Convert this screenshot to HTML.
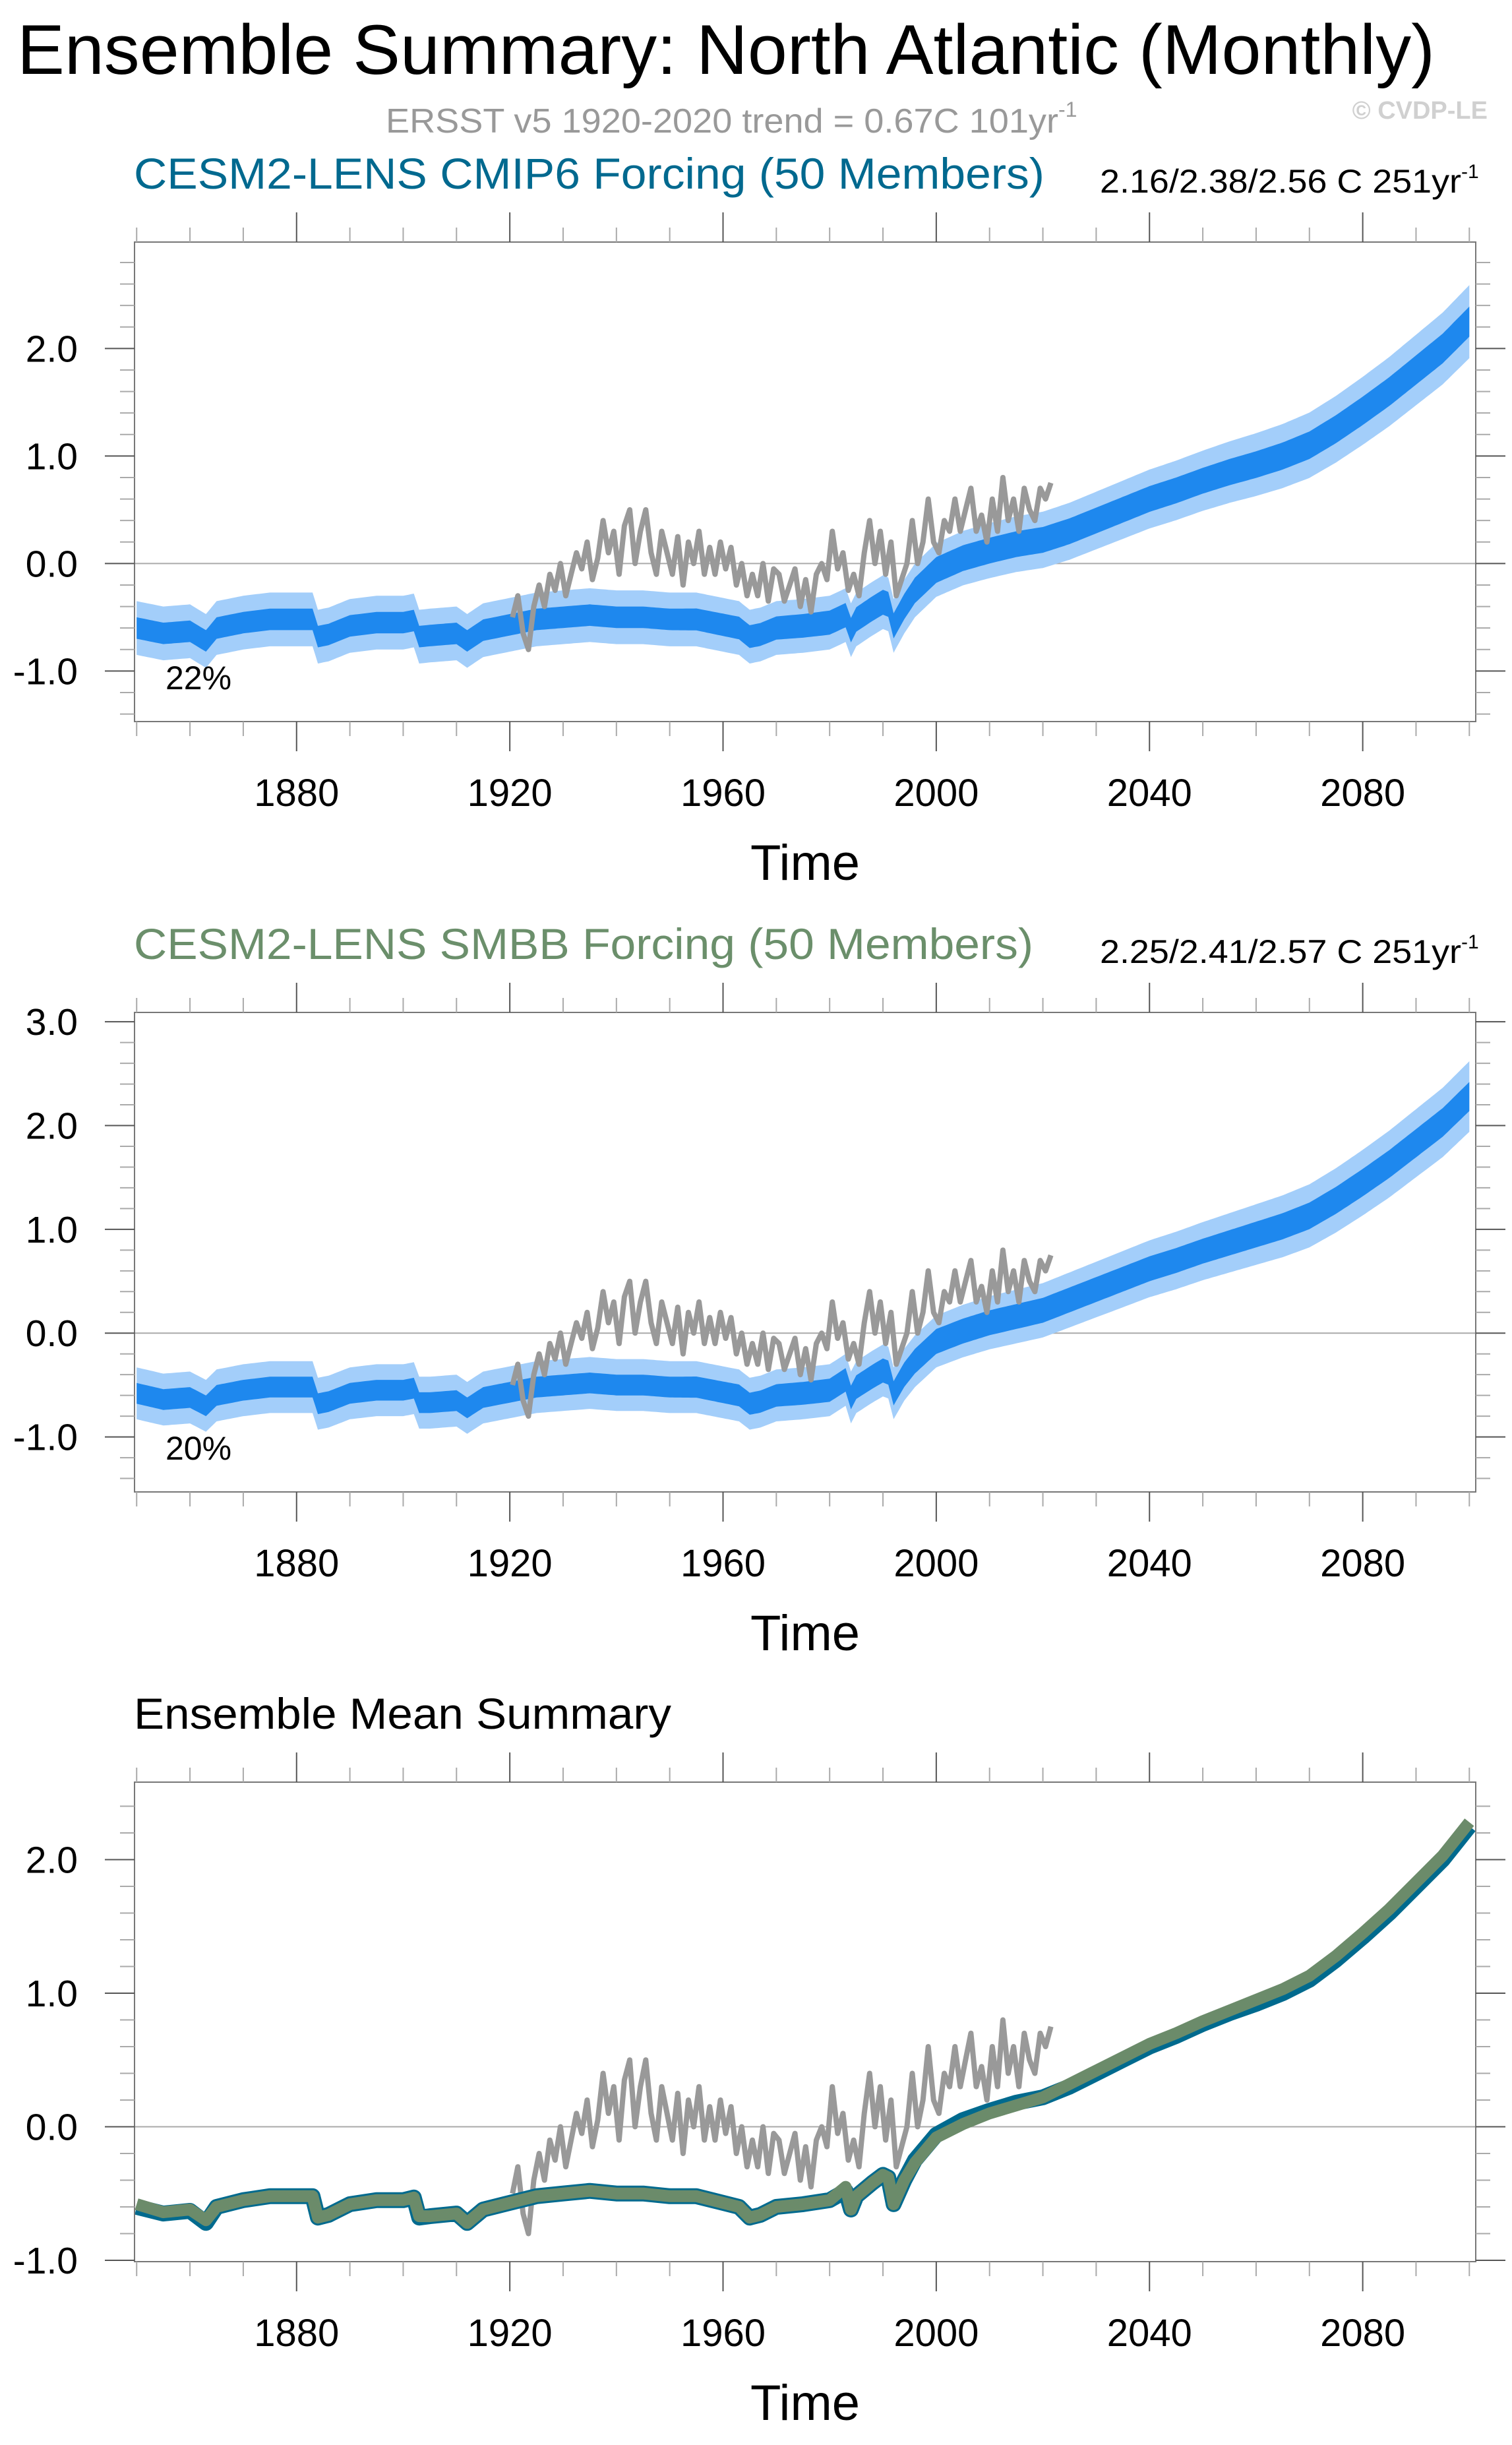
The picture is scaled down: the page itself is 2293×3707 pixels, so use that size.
<!DOCTYPE html>
<html><head><meta charset="utf-8"><title>Ensemble Summary: North Atlantic (Monthly)</title>
<style>
html,body{margin:0;padding:0;background:#fff;}
svg{display:block;font-family:"Liberation Sans",Arial,sans-serif;}
</style></head>
<body>
<svg id="fig" xmlns="http://www.w3.org/2000/svg" width="2293" height="3707" viewBox="0 0 2293 3707">
<rect width="2293" height="3707" fill="#fff"/>
<text x="26" y="112" font-size="107" fill="#000" textLength="2150" lengthAdjust="spacingAndGlyphs">Ensemble Summary: North Atlantic (Monthly)</text>
<text x="585" y="201" font-size="52" fill="#999"><tspan textLength="1020" lengthAdjust="spacingAndGlyphs">ERSST v5 1920-2020 trend = 0.67C 101yr</tspan><tspan font-size="32" dy="-24">-1</tspan></text>
<text x="2256" y="180" font-size="38" font-weight="bold" fill="#d0d0d0" text-anchor="end">© CVDP-LE</text>
<g id="panels"></g>
</svg>
<script>
// ---- data ----
const meanYears = [1850,1855,1860,1863,1865,1870,1875,1880,1883,1884,1886,1890,1895,1900,1902,1903,1905,1910,1912,1915,1920,1925,1930,1935,1940,1945,1950,1955,1960,1963,1965,1967,1970,1975,1980,1983,1984,1985,1988,1990,1991,1992,1994,1996,2000,2005,2010,2015,2020,2025,2030,2035,2040,2045,2050,2055,2060,2065,2070,2075,2080,2085,2090,2095,2100];
const cmip6Mean = [-0.60,-0.65,-0.63,-0.72,-0.60,-0.55,-0.52,-0.52,-0.52,-0.68,-0.66,-0.58,-0.55,-0.55,-0.53,-0.68,-0.67,-0.65,-0.72,-0.62,-0.57,-0.52,-0.50,-0.48,-0.50,-0.50,-0.52,-0.52,-0.57,-0.60,-0.68,-0.66,-0.60,-0.58,-0.55,-0.48,-0.62,-0.52,-0.42,-0.36,-0.38,-0.58,-0.40,-0.25,-0.06,0.05,0.12,0.18,0.22,0.30,0.40,0.50,0.60,0.68,0.77,0.85,0.92,1.00,1.10,1.25,1.42,1.60,1.80,2.00,2.25];
const smbbMean = [-0.58,-0.64,-0.62,-0.70,-0.60,-0.55,-0.52,-0.52,-0.52,-0.68,-0.66,-0.58,-0.55,-0.55,-0.53,-0.67,-0.67,-0.65,-0.72,-0.62,-0.57,-0.52,-0.50,-0.48,-0.50,-0.50,-0.52,-0.52,-0.57,-0.60,-0.68,-0.66,-0.60,-0.58,-0.55,-0.45,-0.62,-0.52,-0.42,-0.36,-0.38,-0.58,-0.40,-0.27,-0.08,0.02,0.10,0.16,0.22,0.32,0.42,0.52,0.62,0.70,0.79,0.87,0.95,1.03,1.13,1.28,1.45,1.63,1.83,2.03,2.28];
const spreadYears = [1850,1950,2000,2050,2100];
const outerSpread = [0.25,0.25,0.25,0.28,0.34];
const innerSpread = [0.10,0.10,0.12,0.12,0.14];
const obsStartYear = 1920;
const obsValues = [-0.5,-0.3,-0.65,-0.8,-0.4,-0.2,-0.4,-0.1,-0.25,0.0,
 -0.3,-0.1,0.1,-0.05,0.2,-0.15,0.05,0.4,0.1,0.3,
 -0.1,0.35,0.5,0.0,0.3,0.5,0.1,-0.1,0.3,0.1,
 -0.1,0.25,-0.2,0.2,0.0,0.3,-0.1,0.15,-0.1,0.2,
 -0.05,0.15,-0.2,0.0,-0.3,-0.1,-0.3,0.0,-0.35,-0.05,
 -0.1,-0.35,-0.2,-0.05,-0.4,-0.15,-0.45,-0.1,0.0,-0.15,
 0.3,-0.05,0.1,-0.25,-0.1,-0.3,0.1,0.4,0.0,0.3,
 -0.1,0.2,-0.3,-0.15,0.0,0.4,0.0,0.2,0.6,0.2,
 0.1,0.4,0.3,0.6,0.3,0.5,0.7,0.3,0.45,0.2,
 0.6,0.3,0.8,0.4,0.6,0.3,0.7,0.5,0.4,0.7,
 0.6,0.75];
const xTickLabels = ["1880","1920","1960","2000","2040","2080"];
const panel1YLabels = ["2.0","1.0","0.0","-1.0"];
const panel2YLabels = ["3.0","2.0","1.0","0.0","-1.0"];
const panel3YLabels = ["2.0","1.0","0.0","-1.0"];

const NS = "http://www.w3.org/2000/svg";
const root = document.getElementById('panels');
function mk(tag, attrs, parent){const e=document.createElementNS(NS,tag);for(const k in attrs)e.setAttribute(k,attrs[k]);(parent||root).appendChild(e);return e;}
function interp(xs, ys, x){if(x<=xs[0])return ys[0];for(let i=1;i<xs.length;i++){if(x<=xs[i]){const t=(x-xs[i-1])/(xs[i]-xs[i-1]);return ys[i-1]+t*(ys[i]-ys[i-1]);}}return ys[ys.length-1];}

const L=204,R=2238,X0=1849.6,X1=2101.2;
function xs(yr){return L+(yr-X0)/(X1-X0)*(R-L);}

function panel(opt){
  const g=mk('g',{});
  
  
  const T=opt.top,B=opt.top+727;
  const ys=v=>B-(v-opt.ymin)/(opt.ymax-opt.ymin)*(B-T);
  const t=mk('text',{x:203,y:T-81,'font-size':66,fill:opt.titleColor,textLength:opt.titleLen,lengthAdjust:'spacingAndGlyphs'},g);
  t.textContent=opt.title;
  
  
  if(opt.stat){
    const s=mk('text',{x:1668,y:T-75,'font-size':50,fill:'#000'},g);
    
    
    const m=mk('tspan',{textLength:548,lengthAdjust:'spacingAndGlyphs'},s);
    m.textContent=opt.stat;
    const sp=mk('tspan',{'font-size':30,dy:-22},s);
    sp.textContent='-1';
  }
  const z=mk('line',{x1:L,x2:R,y1:ys(0),y2:ys(0),stroke:'#aaa','stroke-width':2},g);
  
  
  if(opt.mean){
    const fine=[];for(let y=1850;y<=2100;y+=0.5)fine.push(y);
    const band=(sp,color,name)=>{
      let up=[],dn=[];
      fine.forEach(y=>{const m=interp(meanYears,opt.mean,y);const s=interp(spreadYears,sp,y);up.push(xs(y).toFixed(1)+','+ys(m+s).toFixed(1));dn.push(xs(y).toFixed(1)+','+ys(m-s).toFixed(1));});
      const p=mk('polygon',{points:up.concat(dn.reverse()).join(' '),fill:color},g);
      
      
    };
    band(outerSpread,'#a3cefa','ensemble-outer-spread');
    band(innerSpread,'#1e88ee','ensemble-inner-spread');
  }
  const op=obsValues.map((v,i)=>xs(obsStartYear+i+0.5).toFixed(1)+','+ys(v).toFixed(1)).join(' ');
  const ol=mk('polyline',{points:op,fill:'none',stroke:'#999','stroke-width':8,'stroke-linejoin':'round'},g);
  
  
  if(opt.lines){
    opt.lines.forEach(ln=>{
      const pts=meanYears.map((y,i)=>xs(y).toFixed(1)+','+ys(ln.data[i]).toFixed(1)).join(' ');
      const pl=mk('polyline',{points:pts,fill:'none',stroke:ln.color,'stroke-width':ln.w,'stroke-linejoin':'round'},g);
      
      
    });
  }
  const fr=mk('rect',{x:L,y:T,width:R-L,height:B-T,fill:'none',stroke:'#777','stroke-width':2},g);
  
  
  for(let y=1850;y<=2100;y+=10){
    const maj=(y-1880)%40===0;const len=maj?45:22;const c=maj?'#555':'#aaa';
    mk('line',{x1:xs(y),x2:xs(y),y1:T,y2:T-len,stroke:c,'stroke-width':2},g);
    mk('line',{x1:xs(y),x2:xs(y),y1:B,y2:B+len,stroke:c,'stroke-width':2},g);
  }
  xTickLabels.forEach(lbl=>{
    const tx=mk('text',{x:xs(+lbl),y:B+128,'font-size':58,'text-anchor':'middle',fill:'#000'},g);
    tx.textContent=lbl;
    
    
  });
  for(let k=Math.ceil(opt.ymin*5);k<=Math.floor(opt.ymax*5);k++){
    const v=k/5;const maj=k%5===0;const len=maj?45:22;const c=maj?'#555':'#aaa';
    mk('line',{x1:L,x2:L-len,y1:ys(v),y2:ys(v),stroke:c,'stroke-width':2},g);
    mk('line',{x1:R,x2:R+len,y1:ys(v),y2:ys(v),stroke:c,'stroke-width':2},g);
  }
  opt.ylabels.forEach(lbl=>{
    const ty=mk('text',{x:118,y:ys(+lbl)+20,'font-size':57,'text-anchor':'end',fill:'#000'},g);
    ty.textContent=lbl;
    
    
  });
  const xt=mk('text',{x:1221,y:B+240,'font-size':76,'text-anchor':'middle',fill:'#000'},g);
  xt.textContent='Time';
  
  
  if(opt.pct){
    const pc=mk('text',{x:251,y:opt.top+678,'font-size':50,fill:'#000'},g);
    pc.textContent=opt.pct;
    
    
  }
}

panel({name:'cmip6-panel',top:367,ymin:-1.47,ymax:2.99,title:'CESM2-LENS CMIP6 Forcing (50 Members)',titleLen:1381,titleColor:'#00698f',stat:'2.16/2.38/2.56 C 251yr',mean:cmip6Mean,ylabels:panel1YLabels,pct:'22%'});
panel({name:'smbb-panel',top:1535,ymin:-1.53,ymax:3.09,title:'CESM2-LENS SMBB Forcing (50 Members)',titleLen:1364,titleColor:'#6b8f6b',stat:'2.25/2.41/2.57 C 251yr',mean:smbbMean,ylabels:panel2YLabels,pct:'20%'});
panel({name:'ensemble-mean-panel',top:2702,ymin:-1.01,ymax:2.58,title:'Ensemble Mean Summary',titleLen:815,titleColor:'#000',ylabels:panel3YLabels,
  lines:[{name:'cmip6-ensemble-mean-line',data:cmip6Mean,color:'#006a8e',w:24},{name:'smbb-ensemble-mean-line',data:smbbMean,color:'#6b8b6a',w:18}]});
</script>
</body></html>
